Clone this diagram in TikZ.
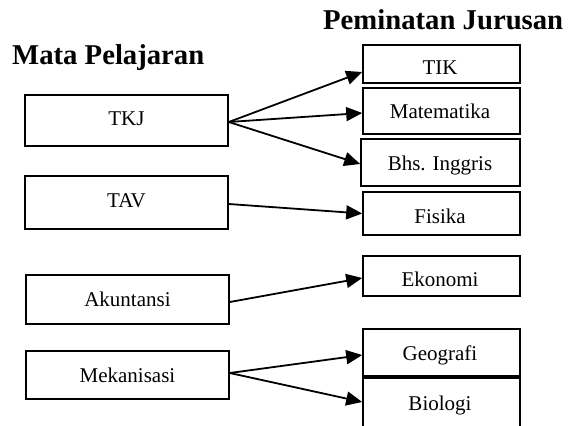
\documentclass[tikz,border=0pt]{standalone}
\usepackage{fontspec}
\setmainfont{Liberation Serif}
\usetikzlibrary{arrows.meta}
\begin{document}
\begin{tikzpicture}[x=1pt,y=-1pt,
  box/.style={draw,line width=1.6pt,inner sep=0pt,rectangle},
  lbl/.style={font=\fontsize{21}{25}\selectfont,inner sep=0pt,anchor=base},
  head/.style={font=\fontsize{28.7}{34}\selectfont\bfseries,inner sep=0pt,anchor=base west},
  conn/.style={line width=1.8pt,-{Triangle[length=16pt,width=14pt]}}]
\useasboundingbox (0,0) rectangle (568,426);
\clip (0,0) rectangle (568,426);
% headings
\node[head] (h1) at (12,64) {Mata Pelajaran};
\node[head] (h2) at (323,29) {Peminatan Jurusan};
% left boxes
\node[box,minimum width=203pt,minimum height=51pt] (tkj) at (126.5,120.5) {};
\node[box,minimum width=203pt,minimum height=53pt] (tav) at (126.5,202.5) {};
\node[box,minimum width=203pt,minimum height=49pt] (aku) at (127.5,299.5) {};
\node[box,minimum width=203pt,minimum height=48pt] (mek) at (127.5,375) {};
\node[lbl] (tkjt) at (126.5,125) {TKJ};
\node[lbl] (tavt) at (126.5,207) {TAV};
\node[lbl] (akut) at (127.5,306) {Akuntansi};
\node[lbl] (mekt) at (127.5,382.7) {Mekanisasi};
% right boxes
\node[box,minimum width=157pt,minimum height=38pt] (tik) at (441.5,64) {};
\node[box,minimum width=157pt,minimum height=46pt] (mat) at (441.5,111) {};
\node[box,minimum width=159pt,minimum height=47pt] (bhs) at (440.5,162.5) {};
\node[box,minimum width=157pt,minimum height=43pt] (fis) at (441.5,213.5) {};
\node[box,minimum width=157pt,minimum height=40pt] (eko) at (441.5,276) {};
\node[box,minimum width=157pt,minimum height=47pt] (geo) at (441.5,352.5) {};
\node[box,minimum width=157pt,minimum height=62pt] (bio) at (441.5,409) {};
\node[lbl] (tikt) at (440,74) {TIK};
\node[lbl] (matt) at (440,118) {Matematika};
\node[lbl] (bhst) at (440,170) {Bhs. Inggris};
\node[lbl] (fist) at (440,223) {Fisika};
\node[lbl] (ekot) at (440,286.7) {Ekonomi};
\node[lbl] (geot) at (440,360) {Geografi};
\node[lbl] (biot) at (440,410) {Biologi};
% connectors
\draw[conn] ([yshift=-1.5pt]tkj.east) -- ([yshift=-8pt]tik.west);
\draw[conn] ([yshift=-1.5pt]tkj.east) -- ([yshift=-2pt]mat.west);
\draw[conn] ([yshift=-1.5pt]tkj.east) -- ([yshift=-1.5pt]bhs.west);
\draw[conn] ([yshift=-1.5pt]tav.east) -- (fis.west);
\draw[conn] ([yshift=-2.5pt]aku.east) -- ([yshift=-2pt]eko.west);
\draw[conn] ([yshift=2pt]mek.east) -- ([yshift=-2.5pt]geo.west);
\draw[conn] ([yshift=2pt]mek.east) -- ([yshift=7pt]bio.west);
\end{tikzpicture}
\end{document}
